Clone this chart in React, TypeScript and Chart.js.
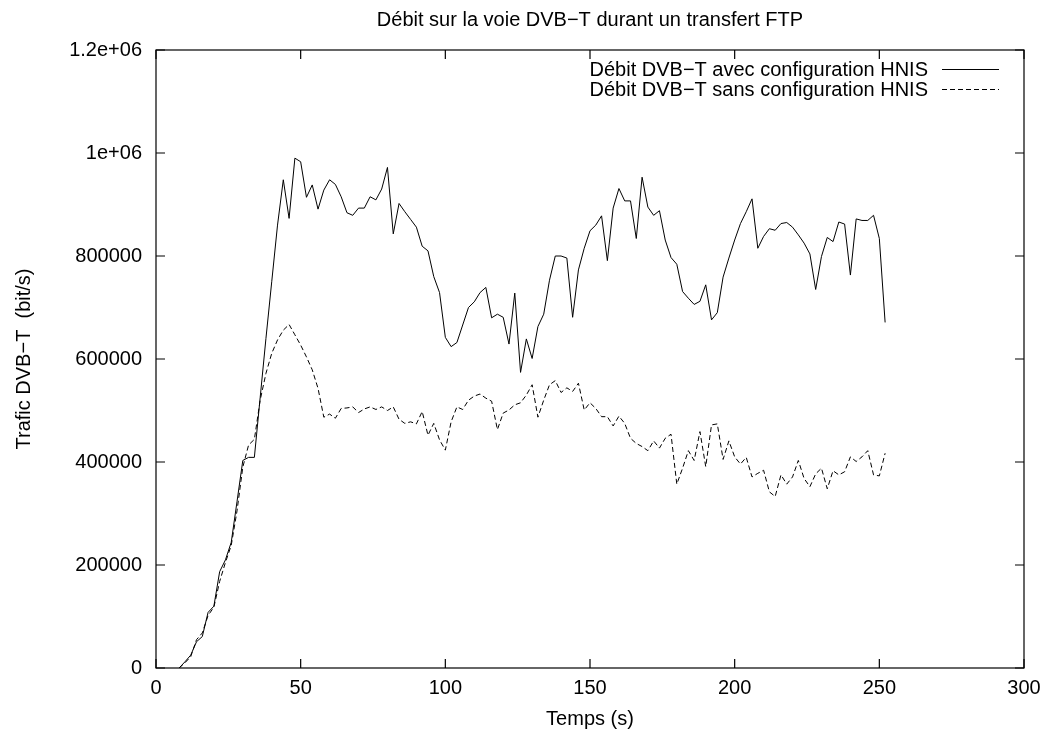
import React, { useEffect, useRef } from "react";
import { Chart, registerables } from "chart.js";

Chart.register(...registerables);

const TITLE = "Débit sur la voie DVB−T durant un transfert FTP";
const X_LABEL = "Temps (s)";
const Y_LABEL = "Trafic DVB−T  (bit/s)";
const SERIES_NAMES = ["Débit DVB−T avec configuration HNIS", "Débit DVB−T sans configuration HNIS"];

const X_MIN = 0;
const X_MAX = 300;
const X_STEP = 50;
const Y_MIN = 0;
const Y_MAX = 1200000;
const Y_STEP = 200000;

const TIMES = [
  8, 10, 12, 14, 16, 18, 20, 22, 24, 26, 28, 30, 32, 34, 36, 38, 40, 42, 44, 46,
  48, 50, 52, 54, 56, 58, 60, 62, 64, 66, 68, 70, 72, 74, 76, 78, 80, 82, 84, 86,
  88, 90, 92, 94, 96, 98, 100, 102, 104, 106, 108, 110, 112, 114, 116, 118, 120, 122, 124, 126,
  128, 130, 132, 134, 136, 138, 140, 142, 144, 146, 148, 150, 152, 154, 156, 158, 160, 162, 164, 166,
  168, 170, 172, 174, 176, 178, 180, 182, 184, 186, 188, 190, 192, 194, 196, 198, 200, 202, 204, 206,
  208, 210, 212, 214, 216, 218, 220, 222, 224, 226, 228, 230, 232, 234, 236, 238, 240, 242, 244, 246,
  248, 250, 252,
];

const WITH_HNIS = [
  0, 12000, 25000, 51000, 61000, 108000, 120000, 187000, 210000, 244000, 323000, 403000, 409000, 409000, 525000, 640000, 750000, 860000, 948000, 873000,
  990000, 983000, 914000, 938000, 891000, 928000, 948000, 939000, 915000, 884000, 879000, 893000, 893000, 915000, 909000, 930000, 972000, 843000, 902000, 886000,
  871000, 856000, 819000, 810000, 760000, 729000, 642000, 624000, 632000, 666000, 700000, 711000, 729000, 739000, 680000, 687000, 681000, 629000, 728000, 574000,
  639000, 601000, 663000, 687000, 753000, 800000, 800000, 796000, 681000, 773000, 815000, 849000, 860000, 878000, 791000, 893000, 931000, 907000, 907000, 834000,
  953000, 895000, 879000, 888000, 831000, 797000, 784000, 731000, 718000, 706000, 712000, 744000, 676000, 690000, 759000, 796000, 831000, 863000, 886000, 911000,
  815000, 838000, 853000, 850000, 863000, 865000, 856000, 841000, 825000, 804000, 735000, 799000, 836000, 828000, 866000, 862000, 763000, 872000, 869000, 869000,
  879000, 834000, 671000,
];

const WITHOUT_HNIS = [
  0, 10000, 22000, 55000, 68000, 102000, 118000, 168000, 205000, 238000, 305000, 390000, 433000, 444000, 520000, 572000, 611000, 637000, 656000, 667000,
  647000, 627000, 604000, 579000, 543000, 487000, 493000, 485000, 504000, 505000, 507000, 496000, 503000, 507000, 502000, 507000, 500000, 507000, 483000, 475000,
  478000, 474000, 498000, 452000, 475000, 443000, 423000, 478000, 507000, 502000, 520000, 528000, 532000, 524000, 518000, 463000, 495000, 501000, 511000, 515000,
  530000, 550000, 487000, 520000, 550000, 558000, 535000, 544000, 537000, 553000, 501000, 515000, 504000, 488000, 488000, 470000, 489000, 475000, 446000, 436000,
  430000, 422000, 441000, 427000, 446000, 454000, 357000, 388000, 422000, 403000, 459000, 391000, 472000, 474000, 405000, 441000, 410000, 396000, 409000, 371000,
  378000, 384000, 342000, 333000, 375000, 357000, 371000, 403000, 368000, 352000, 377000, 388000, 348000, 383000, 375000, 381000, 410000, 401000, 410000, 422000,
  375000, 373000, 417000,
];

const FONT_FAMILY = "'Liberation Sans', Arial, Helvetica, sans-serif";
const FONT_SIZE = 20;

function formatY(v: number): string {
  if (v >= 1000000) {
    return v.toExponential().replace(/e\+(\d)$/, "e+0$1");
  }
  return String(v);
}

const gnuplotFrame = {
  id: "gnuplotFrame",
  afterDraw(chart: any) {
    const { ctx, chartArea, scales } = chart;
    const { left, right, top, bottom } = chartArea;
    const xs = scales.x;
    const ys = scales.y;
    const TL = 9;
    ctx.save();
    ctx.strokeStyle = "#000";
    ctx.lineWidth = 1.2;
    ctx.strokeRect(left, top, right - left, bottom - top);
    ctx.beginPath();
    xs.ticks.forEach((t: any) => {
      const px = xs.getPixelForValue(t.value);
      ctx.moveTo(px, bottom);
      ctx.lineTo(px, bottom - TL);
      ctx.moveTo(px, top);
      ctx.lineTo(px, top + TL);
    });
    ys.ticks.forEach((t: any) => {
      const py = ys.getPixelForValue(t.value);
      ctx.moveTo(left, py);
      ctx.lineTo(left + TL, py);
      ctx.moveTo(right, py);
      ctx.lineTo(right - TL, py);
    });
    ctx.stroke();

    ctx.fillStyle = "#000";
    ctx.font = `${FONT_SIZE}px ${FONT_FAMILY}`;
    const cx = (left + right) / 2;
    ctx.textAlign = "center";
    ctx.textBaseline = "alphabetic";
    ctx.fillText(TITLE, cx, 26);
    ctx.fillText(X_LABEL, cx, 725);

    ctx.save();
    ctx.translate(30, (top + bottom) / 2);
    ctx.rotate(-Math.PI / 2);
    ctx.textAlign = "center";
    ctx.textBaseline = "alphabetic";
    ctx.fillText(Y_LABEL, 0, 0);
    ctx.restore();

    // legend
    const rows = [69, 89];
    const textRight = 928;
    const lineX0 = 942;
    const lineX1 = 999;
    chart.data.datasets.forEach((ds: any, i: number) => {
      const y = rows[i];
      ctx.textAlign = "right";
      ctx.textBaseline = "middle";
      ctx.fillText(SERIES_NAMES[i], textRight, y + 1);
      ctx.save();
      ctx.lineWidth = 1;
      ctx.setLineDash(ds.borderDash || []);
      ctx.beginPath();
      ctx.moveTo(lineX0, y + 0.5);
      ctx.lineTo(lineX1, y + 0.5);
      ctx.stroke();
      ctx.restore();
    });
    ctx.restore();
  },
};

export default function App() {
  const ref = useRef<HTMLCanvasElement | null>(null);

  useEffect(() => {
    if (!ref.current) return;
    const chart = new Chart(ref.current, {
      type: "line",
      data: {
        datasets: [
          {
            label: SERIES_NAMES[0],
            data: TIMES.map((t, i) => ({ x: t, y: WITH_HNIS[i] })),
            borderColor: "#000",
            borderWidth: 1,
            pointRadius: 0,
            tension: 0,
            fill: false,
          },
          {
            label: SERIES_NAMES[1],
            data: TIMES.map((t, i) => ({ x: t, y: WITHOUT_HNIS[i] })),
            borderColor: "#000",
            borderWidth: 1,
            borderDash: [5, 3],
            pointRadius: 0,
            tension: 0,
            fill: false,
          },
        ],
      },
      options: {
        animation: false,
        responsive: false,
        layout: { padding: { left: 0, top: 50, right: 29, bottom: 0 } },
        plugins: {
          legend: { display: false },
          title: { display: false },
          tooltip: { enabled: false },
        },
        scales: {
          x: {
            type: "linear",
            min: X_MIN,
            max: X_MAX,
            grid: { display: false, drawTicks: false },
            border: { display: false },
            ticks: {
              stepSize: X_STEP,
              padding: 8,
              color: "#000",
              font: { family: FONT_FAMILY, size: FONT_SIZE },
              maxRotation: 0,
            },
            afterFit(scale: any) {
              scale.height = 66;
            },
          },
          y: {
            type: "linear",
            min: Y_MIN,
            max: Y_MAX,
            grid: { display: false, drawTicks: false },
            border: { display: false },
            ticks: {
              stepSize: Y_STEP,
              padding: 14,
              color: "#000",
              font: { family: FONT_FAMILY, size: FONT_SIZE },
              callback: (v: any) => formatY(Number(v)),
            },
            afterFit(scale: any) {
              scale.width = 156;
            },
          },
        },
      },
      plugins: [gnuplotFrame],
    });
    return () => chart.destroy();
  }, []);

  return (
    <div style={{ position: "absolute", left: 0, top: 0, width: 1053, height: 734, background: "#fff" }}>
      <canvas ref={ref} width={1053} height={734} style={{ display: "block" }} />
    </div>
  );
}
